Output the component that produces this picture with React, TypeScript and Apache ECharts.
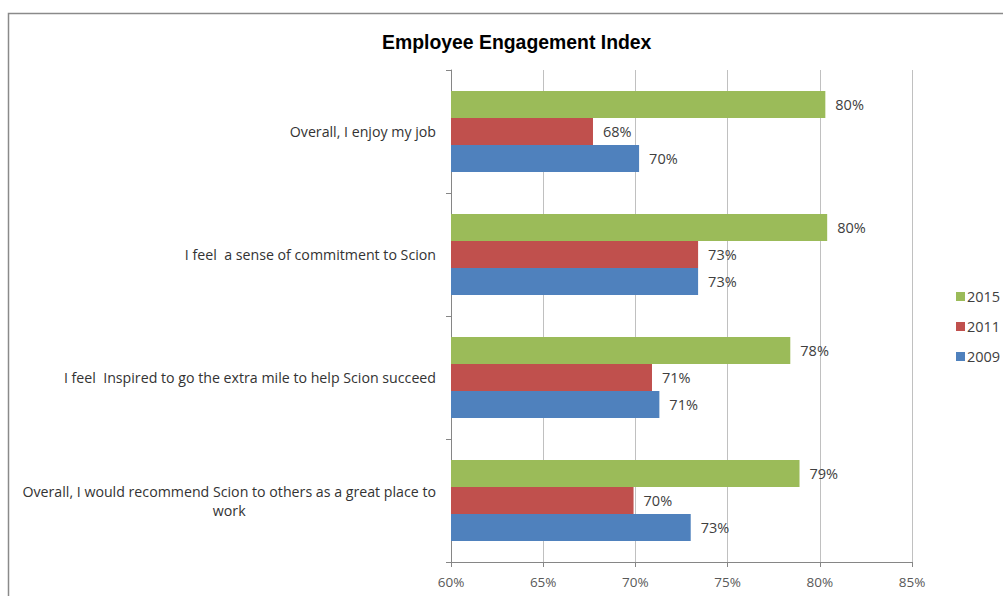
import React, { useEffect, useRef } from "react";
import * as echarts from "echarts";

const categories: string[] = [
  "Overall, I enjoy my job",
  "I feel  a sense of commitment to Scion",
  "I feel  Inspired to go the extra mile to help Scion succeed",
  "Overall, I would recommend Scion to others as a great place to\nwork",
];
const seriesNames: string[] = ["2015", "2011", "2009"];
const values2015: number[] = [80.3, 80.4, 78.4, 78.9];
const values2011: number[] = [67.7, 73.4, 70.9, 69.9];
const values2009: number[] = [70.2, 73.4, 71.3, 73.0];
const colors: string[] = ["#9BBB59", "#C0504D", "#4F81BD"];
const xTicks = { min: 60, max: 85, interval: 5 };

export default function App() {
  const ref = useRef<HTMLDivElement>(null);
  useEffect(() => {
    document.body.style.margin = "0";
    const chart = echarts.init(ref.current!, undefined, { renderer: "svg" });
    const allValues = [values2015, values2011, values2009];
    const labelFont = "'Open Sans', Lato, sans-serif";
    chart.setOption({
      animation: false,
      backgroundColor: "#ffffff",
      title: {
        text: "Employee Engagement Index",
        left: 377,
        top: 27,
        textStyle: {
          fontFamily: "'Liberation Sans', Arial, sans-serif",
          fontWeight: "bold",
          fontSize: 19.4,
          color: "#000000",
        },
      },
      graphic: [
        {
          type: "rect",
          shape: { x: 8.5, y: 13.5, width: 1200, height: 800 },
          style: { fill: "none", stroke: "#8a8a8a", lineWidth: 1.5 },
          silent: true,
          z: -1,
        },
      ],
      legend: {
        orient: "vertical",
        left: 956,
        top: 289,
        padding: 0,
        itemWidth: 9,
        itemHeight: 9,
        itemGap: 15,
        icon: "rect",
        data: seriesNames,
        textStyle: {
          fontFamily: labelFont,
          fontSize: 14.5,
          color: "#404040",
          padding: [0, 0, 0, -3],
        },
      },
      grid: { left: 451, right: 91, top: 70, bottom: 34, containLabel: false },
      xAxis: {
        type: "value",
        min: xTicks.min,
        max: xTicks.max,
        interval: xTicks.interval,
        axisLine: { show: true, lineStyle: { color: "#868686", width: 1 } },
        axisTick: { show: true, length: 5, lineStyle: { color: "#868686" } },
        splitLine: { show: true, lineStyle: { color: "#c0c0c0", width: 1 } },
        axisLabel: {
          formatter: "{value}%",
          fontFamily: labelFont,
          fontSize: 13.5,
          color: "#595959",
          margin: 13,
        },
      },
      yAxis: {
        type: "category",
        data: categories,
        inverse: true,
        axisLine: { show: true, lineStyle: { color: "#868686", width: 1 } },
        axisTick: { show: true, length: 5, lineStyle: { color: "#868686" } },
        axisLabel: {
          margin: 15,
          formatter: (v: string) =>
            v
              .split("\n")
              .map((l) => `{c|${l}}`)
              .join("\n"),
          rich: {
            c: {
              align: "center",
              fontFamily: labelFont,
              fontSize: 14.2,
              color: "#333333",
              lineHeight: 19,
            },
          },
        },
      },
      series: seriesNames.map((name, i) => ({
        name,
        type: "bar",
        data: allValues[i],
        itemStyle: { color: colors[i] },
        barWidth: 27,
        barGap: "0%",
        label: {
          show: true,
          position: "right",
          distance: 10,
          formatter: (p: any) => `${Math.round(p.value)}%`,
          fontFamily: labelFont,
          fontSize: 14.5,
          color: "#404040",
        },
      })),
    });
    return () => chart.dispose();
  }, []);
  return <div ref={ref} style={{ width: 1003, height: 596 }} />;
}
